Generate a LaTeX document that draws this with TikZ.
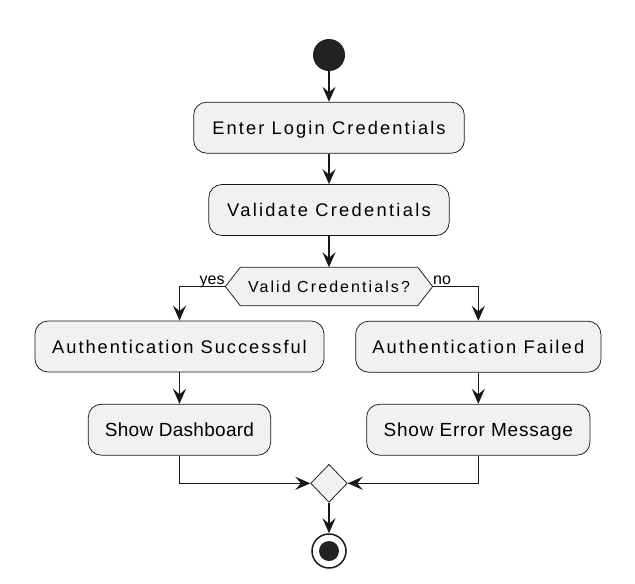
\documentclass[tikz,border=0pt]{standalone}
\usepackage{fontspec}
\setmainfont{Liberation Sans}
\usetikzlibrary{arrows.meta,shapes.geometric,calc,backgrounds}
\definecolor{boxfill}{HTML}{F1F1F1}
\definecolor{lineC}{HTML}{181818}
\definecolor{startC}{HTML}{222222}
\newcommand{\lsp}[2]{{\addfontfeature{LetterSpace=#1}#2}}
\tikzset{
  actbox/.style={draw=lineC, line width=0.75pt, fill=boxfill, rounded corners=13pt,
    minimum height=51pt, inner sep=0pt, text height=13pt, text depth=0pt,
    font=\fontsize{18.3}{21}\selectfont},
  dectext/.style={minimum width=207pt, minimum height=38pt, inner sep=0pt,
    text height=11.5pt, text depth=0pt, font=\fontsize{16}{19}\selectfont},
  decshape/.style={draw=lineC, line width=0.75pt, fill=boxfill},
  lbl/.style={inner sep=0pt, font=\fontsize{16}{19}\selectfont},
  arr/.style={draw=lineC, line width=1.5pt, -{Stealth[length=15pt,width=13pt,inset=5.5pt]}},
}
\begin{document}
\begin{tikzpicture}[x=1pt,y=-1pt]
\useasboundingbox (0,0) rectangle (635,584);
\node[circle, fill=startC, minimum size=32pt, inner sep=0pt] (start) at (329,55) {};
\node[actbox, minimum width=270.7pt] (b1) at (329,127.7) {\lsp{11.5}{Enter Login Credentials}};
\node[actbox, minimum width=240.3pt] (b2) at (329,210) {\lsp{12.5}{Validate Credentials}};
\node[dectext] (dec) at (329,286.5) {\lsp{13}{Valid Credentials?}};
\begin{scope}[on background layer]
\draw[decshape] (dec.west) -- ([xshift=15pt]dec.north west) -- ([xshift=-15pt]dec.north east)
  -- (dec.east) -- ([xshift=-15pt]dec.south east) -- ([xshift=15pt]dec.south west) -- cycle;
\end{scope}
\node[actbox, minimum width=289pt] (b3) at (179.5,346.5) {\lsp{10.7}{Authentication Successful}};
\node[actbox, minimum width=245.3pt] (b4) at (478.3,346.7) {\lsp{11.8}{Authentication Failed}};
\node[actbox, minimum width=182.4pt] (b5) at (179.5,429.7) {\lsp{1.5}{\fontsize{19}{22}\selectfont Show Dashboard}};
\node[actbox, minimum width=223.3pt] (b6) at (478.3,429.7) {\lsp{4.2}{\fontsize{19}{22}\selectfont Show Error Message}};
\node[diamond, draw=lineC, line width=0.75pt, fill=boxfill, minimum width=36.6pt,
  minimum height=38pt, inner sep=0pt] (merge) at (329,483.3) {};
\node[circle, draw=lineC, line width=1.5pt, fill=white, minimum size=34pt, inner sep=0pt] (end) at (329,551) {};
\node[circle, fill=startC, minimum size=20pt, inner sep=0pt] (endin) at (end.center) {};
\node[lbl, anchor=base east] (yes) at (224.8,284) {yes};
\node[lbl, anchor=base west] (no) at (433,284) {no};
\draw[arr] (start) -- (b1);
\draw[arr] (b1) -- (b2);
\draw[arr] (b2) -- (dec.north);
\draw[arr] (dec.west) -| (b3.north);
\draw[arr] (dec.east) -| (b4.north);
\draw[arr] (b3) -- (b5);
\draw[arr] (b4) -- (b6);
\draw[arr] (b5.south) |- (merge.west);
\draw[arr] (b6.south) |- (merge.east);
\draw[arr] (merge.south) -- (end.north);
\end{tikzpicture}
\end{document}
